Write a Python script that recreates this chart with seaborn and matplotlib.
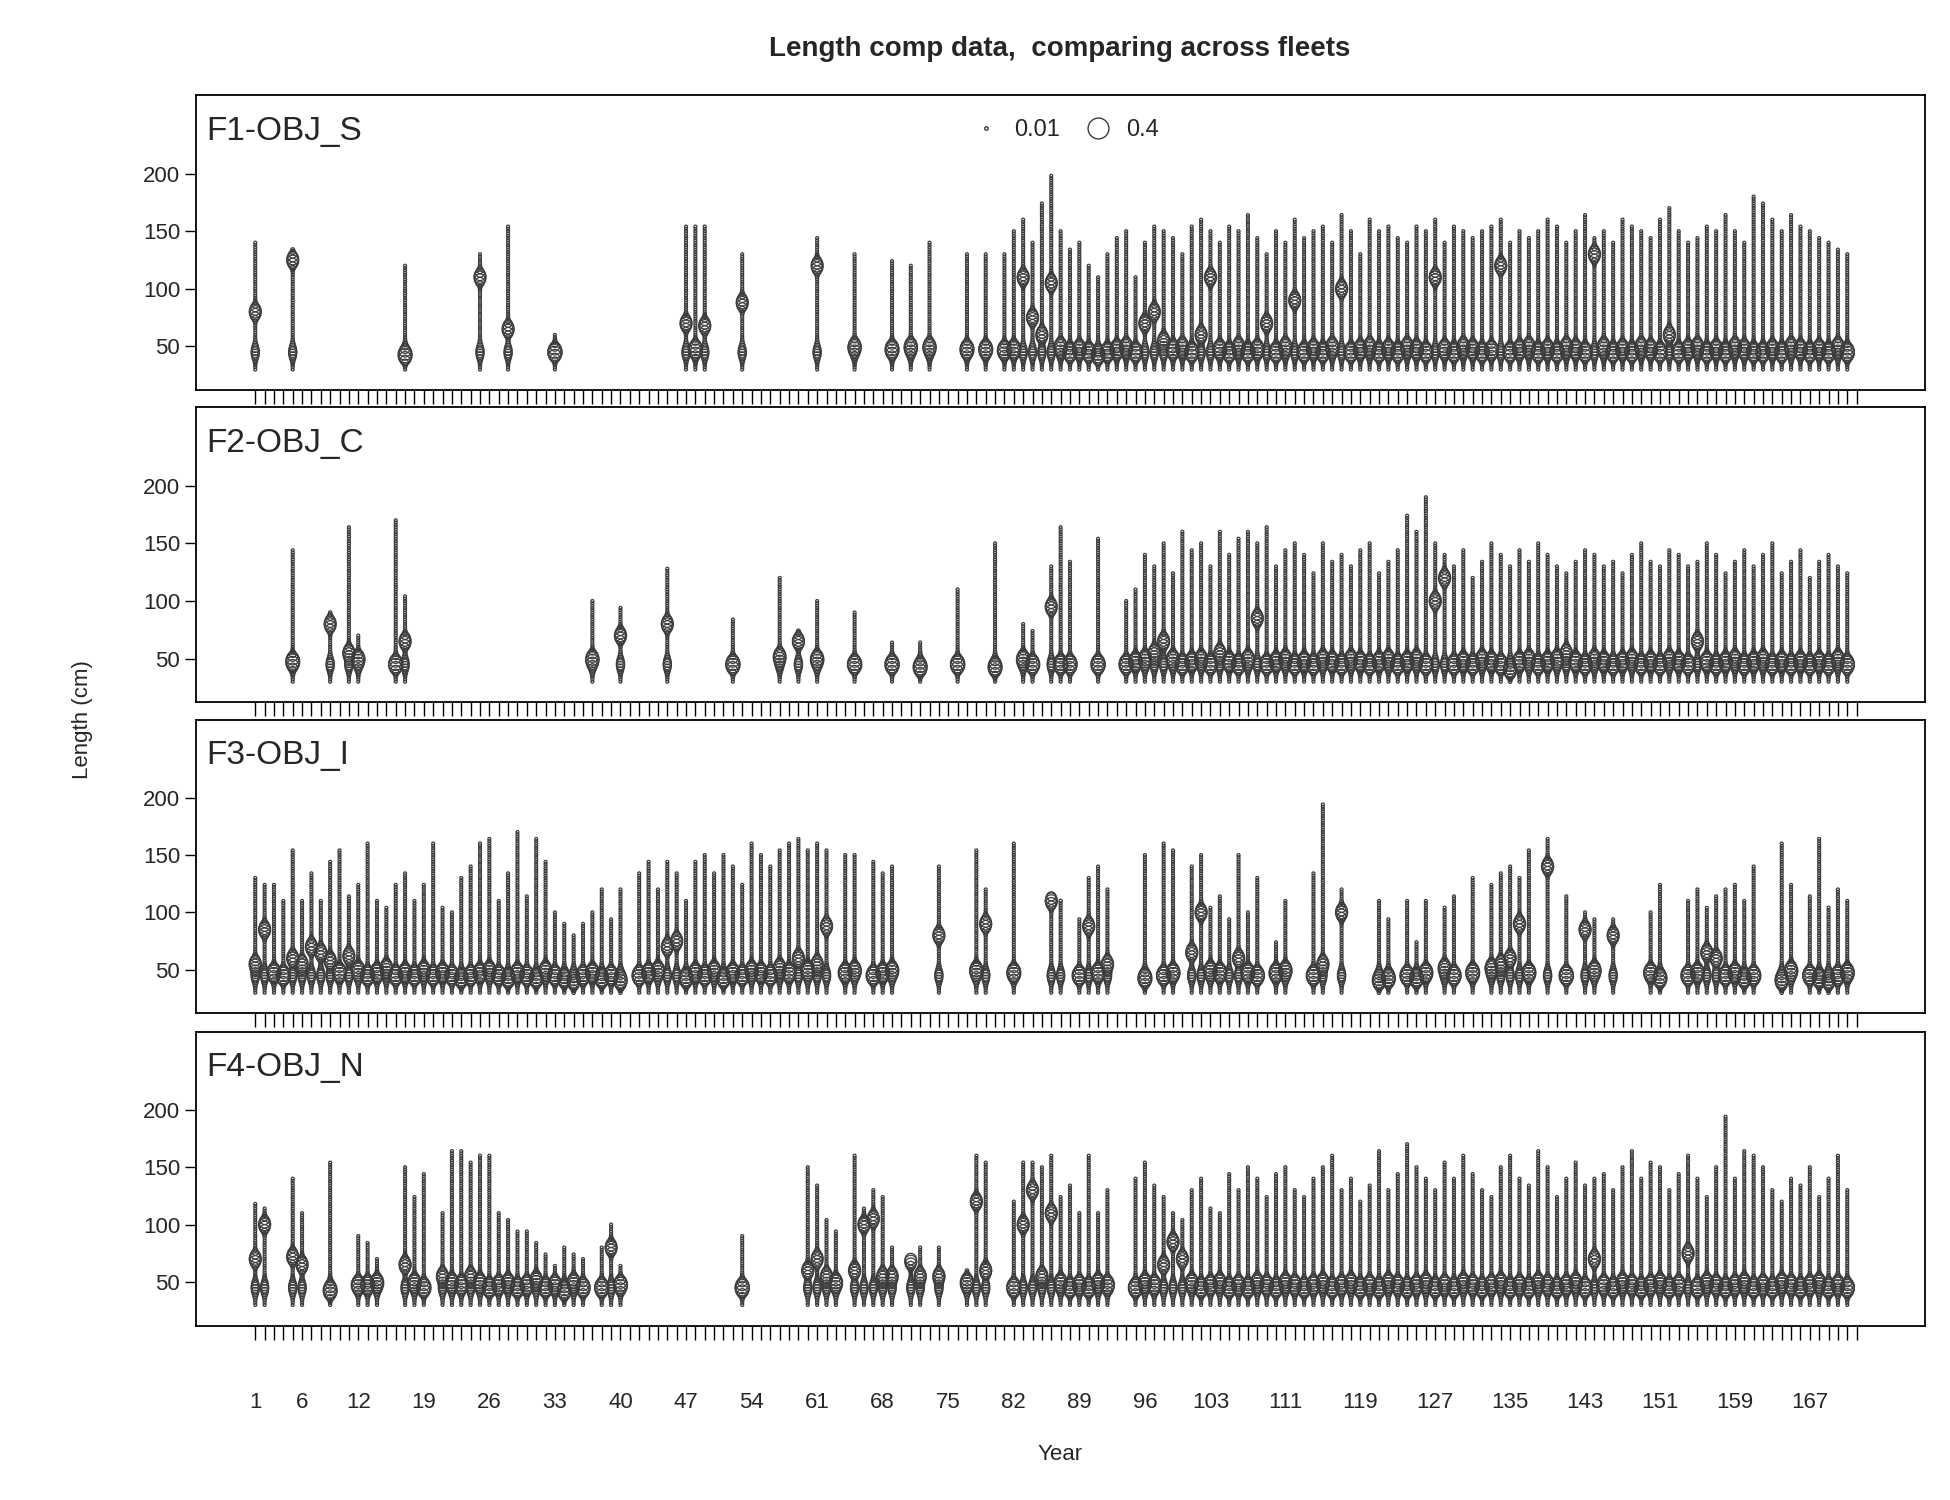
import numpy as np
import pandas as pd
import matplotlib
matplotlib.use("Agg")
import matplotlib.pyplot as plt
import seaborn as sns
from matplotlib.lines import Line2D

sns.set_theme(style="white")
plt.rcParams['font.family'] = ['Arial', 'Liberation Sans', 'DejaVu Sans']

fleets = ["F1-OBJ_S", "F2-OBJ_C", "F3-OBJ_I", "F4-OBJ_N"]
tick_labels = [1, 6, 12, 19, 26, 33, 40, 47, 54, 61, 68, 75, 82, 89, 96, 103, 111,
               119, 127, 135, 143, 151, 159, 167]

f1_years = [1, 5, 17, 25, 28, 33, 47, 48, 49, 53, 61, 65, 69, 71, 73, 77, 79, 81] + list(range(82, 172))
f1_mode = [80, 125, 42, 110, 65, 45, 70, 48, 68, 88, 120, 50, 48, 50, 50, 48, 48, 47,
           48, 110, 75, 60, 105, 50, 45, 48, 45, 42, 45, 48, 50, 45, 70, 80, 55, 48, 50, 45,
           60, 110, 48, 45, 50, 45, 48, 70, 45, 50, 90, 45, 48, 45, 50, 100, 45, 48, 50, 45,
           48, 45, 50, 48, 45, 110, 48, 45, 50, 48, 45, 47, 120, 45, 48, 50, 45, 48, 45, 50,
           48, 45, 130, 50, 45, 48, 45, 50, 48, 45, 60, 45, 48, 50, 45, 48, 45, 50, 48, 45,
           45, 48, 45, 50, 48, 45, 48, 45, 50, 45, 48, 45, 50, 48, 45, 48, 50, 45]
f1_max = [140, 135, 120, 130, 155, 60, 155, 155, 155, 130, 145, 130, 125, 120, 140, 130, 130, 130,
          150, 160, 140, 175, 198, 150, 135, 140, 120, 110, 130, 145, 150, 110, 140, 155, 150, 145,
          130, 155, 160, 150, 140, 155, 150, 165, 145, 130, 150, 140, 160, 145, 150, 155, 140, 165,
          150, 130, 160, 150, 155, 145, 140, 155, 150, 160, 140, 155, 150, 145, 150, 155, 160, 140,
          150, 145, 150, 160, 155, 140, 150, 165, 145, 150, 140, 160, 155, 150, 145, 160, 170, 150,
          140, 145, 155, 150, 165, 150, 140, 180, 175, 160, 150, 165, 155, 150, 145, 140, 135, 130,
          140, 150, 135, 145, 130, 150, 140, 135]

f2_years = [5, 9, 11, 12, 16, 17, 37, 40, 45, 52, 57, 59, 61, 65, 69, 72, 76, 80] + list(range(83, 85)) + [86, 87, 88, 91] + list(range(94, 172))
f2_mode = [48, 80, 55, 50, 45, 65, 50, 70, 80, 45, 52, 65, 50, 45, 45, 42, 45, 42,
           50, 45, 95, 45, 45, 45, 45, 48, 50, 55, 65, 50, 45, 48, 50, 45, 55, 48, 45, 50, 85, 45,
           48, 50, 45, 48, 45, 50, 48, 45, 50, 48, 45, 48, 50, 45, 48, 50, 45, 100, 120, 45,
           48, 45, 50, 48, 45, 40, 48, 50, 45, 48, 50, 55, 48, 45, 50, 48, 45, 48, 50, 45,
           48, 45, 50, 48, 45, 65, 48, 45, 48, 50, 45, 48, 50, 45, 48, 45, 48, 45,
           48, 45, 50, 45, 48, 45, 50, 48, 45, 48, 45, 50, 45, 48]
f2_max = [145, 90, 165, 70, 170, 105, 100, 95, 128, 85, 120, 75, 100, 90, 65, 65, 110, 150,
          80, 75, 130, 165, 135, 155, 100, 110, 140, 130, 150, 125, 160, 145, 150, 130, 160, 140, 155,
          160, 150, 165, 130, 145, 150, 140, 125, 150, 135, 140, 130, 145, 150, 125, 135, 145,
          175, 160, 190, 150, 140, 130, 145, 120, 135, 150, 140, 130, 145, 135, 150, 140, 130,
          125, 135, 145, 140, 130, 135, 125, 140, 150, 135, 130, 145, 140, 130, 135, 150, 140,
          125, 135, 145, 130, 140, 150, 125, 135, 145, 120, 135, 140, 130, 125, 140, 135, 130,
          145, 125, 140, 130, 120]

f3_years = list(range(1, 41)) + list(range(42, 63)) + [64, 65, 67, 68, 69, 74, 78, 79, 82, 86, 87,
            89, 90, 91, 92, 96, 98, 99, 101, 102, 103, 104, 105, 106, 107, 108, 110, 111, 114, 115,
            117, 121, 122, 124, 125, 126, 128, 129, 131, 133, 134, 135, 136, 137, 139, 141, 143,
            144, 146, 150, 151, 154, 155, 156, 157, 158, 159, 160, 161, 164, 165, 167, 168, 169,
            170, 171]
f3_mode = [55, 85, 48, 45, 60, 55, 70, 65, 58, 48, 62, 50, 45, 48, 52, 45, 48, 45, 50, 45,
           48, 45, 42, 45, 48, 50, 45, 42, 48, 45, 42, 50, 45, 42, 40, 45, 48, 42, 45, 40,
           45, 48, 50, 70, 75, 42, 48, 45, 50, 42, 48, 45, 50, 48, 45, 52, 48, 60, 50, 55, 88,
           48, 50, 45, 48, 50, 80, 50, 90, 48, 110, 120, 45, 88, 48, 55, 42, 45, 48, 65, 100,
           50, 48, 110, 60, 48, 45, 48, 50, 45, 55, 100, 40, 42, 45, 42, 48, 52, 45, 48, 52, 55,
           60, 90, 48, 140, 45, 85, 50, 80, 48, 42, 45, 48, 65, 60, 45, 48, 42, 45, 40, 50, 45, 42, 40,
           45, 48, 42, 45, 40, 48, 45, 42, 45, 40]
f3_max = [130, 125, 125, 110, 155, 110, 135, 110, 145, 155, 115, 125, 160, 110, 105, 125, 135, 110,
          125, 160, 105, 100, 130, 140, 160, 165, 110, 135, 170, 115, 165, 145, 100, 90, 80, 90, 100,
          120, 95, 120, 135, 145, 120, 145, 135, 110, 145, 150, 135, 150, 140, 125, 160, 150, 140,
          155, 160, 165, 155, 160, 155, 150, 150, 145, 135, 140, 140, 155, 120, 160, 115, 110, 95, 130,
          140, 120, 150, 160, 155, 140, 150, 105, 115, 95, 150, 100, 130, 75, 110, 135, 195, 120, 110,
          95, 110, 75, 110, 105, 115, 130, 125, 135, 140, 130, 155, 165, 115, 100, 95, 95, 100, 125,
          110, 120, 105, 115, 120, 125, 110, 140, 160, 125, 115, 165, 105, 120,
          110, 100, 125, 115, 105, 120, 110, 100, 115, 105]

f4_years = list(range(1, 3)) + [5, 6, 9, 12, 13, 14, 17, 18, 19] + list(range(21, 37)) + [38, 39, 40, 53,
            60, 61, 62, 63, 65, 66, 67, 68, 69, 71, 72, 74, 77, 78, 79] + list(range(82, 93)) + list(range(95, 172))
f4_mode = [70, 100, 72, 65, 42, 48, 48, 50, 65, 50, 45, 55, 50, 48, 55, 50, 45, 48, 50, 45, 48,
           52, 45, 48, 42, 50, 45, 45, 80, 48, 45, 60, 70, 55, 50, 60, 100, 105, 55, 55, 68, 55, 55, 50,
           120, 60, 45, 100, 130, 55, 110, 50, 45, 48, 45, 50, 48, 45, 50, 48, 65, 85, 70, 50, 45,
           48, 50, 45, 48, 45, 50, 48, 45, 50, 48, 45, 48, 50, 45, 48, 50, 45, 48, 45, 50, 48, 45,
           48, 50, 45, 48, 45, 50, 48, 45, 48, 50, 45, 48, 45, 50, 48, 45, 48, 50, 45, 70, 48, 45, 50,
           48, 45, 48, 50, 45, 48, 75, 45, 50, 48, 45, 48, 50, 45, 48, 45, 50, 48, 45, 48, 50, 45, 48, 45,
           50, 48, 45, 48, 45, 50, 48, 45, 48, 45, 50, 45, 48, 45, 50]
f4_max = [118, 115, 140, 110, 155, 90, 85, 70, 150, 125, 145, 110, 165, 165, 155, 160, 160, 110,
          105, 95, 95, 85, 75, 65, 80, 75, 70, 80, 100, 65, 90, 150, 135, 105, 95, 160, 115, 130, 125,
          80, 70, 80, 80, 60, 160, 155, 120, 155, 155, 150, 160, 125, 135, 110, 160, 110, 130, 140,
          155, 135, 125, 110, 105, 130, 140, 115, 110, 145, 130, 150, 140, 125, 145, 150, 130, 125,
          140, 150, 160, 130, 140, 120, 135, 165, 130, 145, 170, 150, 140, 130, 155, 140, 160, 145,
          130, 125, 150, 160, 140, 135, 165, 150, 125, 140, 155, 135, 140, 145, 130, 150, 165, 140,
          155, 150, 130, 145, 160, 140, 125, 150, 195, 140, 165, 160, 150, 130, 120, 140,
          135, 150, 125, 140, 160, 130, 145, 190, 135, 165, 150, 125, 140, 130, 120]

fleet_data = [(f1_years, f1_mode, f1_max), (f2_years, f2_mode, f2_max),
              (f3_years, f3_mode, f3_max), (f4_years, f4_mode, f4_max)]


def comp_table(years, modes, maxes):
    rows = []
    for yr, md, mx in zip(years, modes, maxes):
        L = np.arange(30, mx + 1, 2.0)
        p = 0.003 + 0.09 * np.exp(-((L - md) / 5.0) ** 2) + 0.04 * np.exp(-((L - 45) / 6.0) ** 2)
        for l, pp in zip(L, p):
            rows.append((yr, l, pp))
    return pd.DataFrame(rows, columns=["Year", "Length", "prop"])


W, H = 1560, 1230
fig = plt.figure(figsize=(19.5, 15), dpi=100)
panels = [(78, 320), (334, 576), (590, 831), (846, 1087)]
ec = "#3c3c3c"
for i, (name, (yrs, md, mx)) in enumerate(zip(fleets, fleet_data)):
    t, b = panels[i]
    ax = fig.add_axes([157 / W, 1 - b / H, (1540 - 157) / W, (b - t) / H])
    df = comp_table(yrs, md, mx)
    sns.scatterplot(data=df, x="Year", y="Length", size="prop", sizes=(2, 324),
                    size_norm=(0, 0.4), legend=False, ax=ax, marker="o",
                    facecolor="none", edgecolor=ec, linewidth=0.9)
    ax.set_xlim(-5.3, 179.3)
    ax.set_ylim(12, 268)
    ax.set_yticks([50, 100, 150, 200])
    ax.set_xticks(range(1, 173))
    ax.tick_params(axis="x", direction="out", length=10, width=1, color="black",
                   labelbottom=(i == 3), labelsize=16, bottom=True, pad=38)
    ax.tick_params(axis="y", direction="out", length=8, width=1, color="black",
                   labelsize=16, left=True)
    if i == 3:
        ax.set_xticklabels([str(x) if x in tick_labels else "" for x in range(1, 173)])
    ax.set_xlabel("")
    ax.set_ylabel("")
    for s in ax.spines.values():
        s.set_color("black")
        s.set_linewidth(1.3)
    ax.text(0.006, 0.93, name, transform=ax.transAxes, fontsize=24, va="top", ha="left")
    if i == 0:
        handles = [Line2D([], [], marker="o", ls="", mfc="none", mec=ec, ms=2.5),
                   Line2D([], [], marker="o", ls="", mfc="none", mec=ec, ms=15)]
        ax.legend(handles, ["0.01", "0.4"], loc="upper center", bbox_to_anchor=(0.5, 0.99),
                  ncol=2, frameon=False, fontsize=17, handletextpad=0.2, columnspacing=0.6)

fig.text(848 / W, 1 - 40 / H, "Length comp data,  comparing across fleets", ha="center",
         va="center", fontsize=20, fontweight="bold")
fig.text(848 / W, 1 - 1193 / H, "Year", ha="center", va="center", fontsize=16)
fig.text(66 / W, 1 - 590 / H, "Length (cm)", ha="center", va="center", fontsize=16, rotation=90)
fig.savefig("out.png", dpi=100)
